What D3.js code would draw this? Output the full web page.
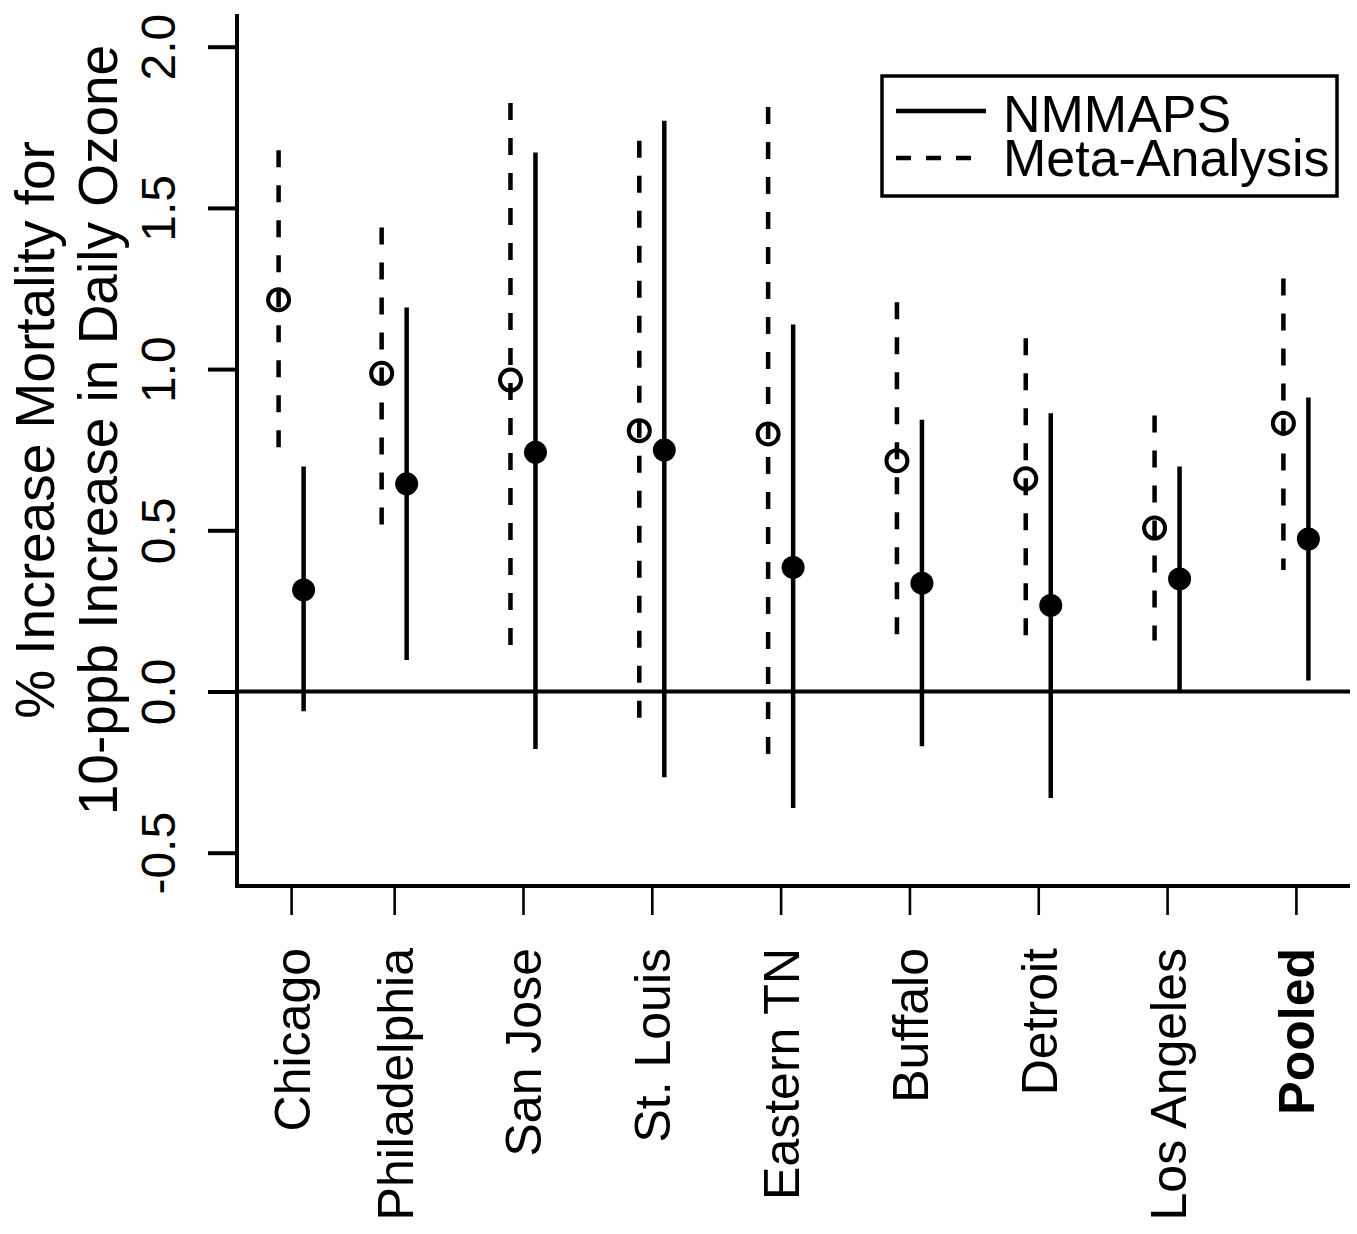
<!DOCTYPE html>
<html>
<head>
<meta charset="utf-8">
<script src="https://cdn.jsdelivr.net/npm/d3@7"></script>
<style>
  body { margin: 0; background: #fff; }
  text { font-family: "Liberation Sans", Arial, sans-serif; fill: #000; }
</style>
</head>
<body>
<div id="chart"></div>
<script>
// city estimates, % increase in mortality per 10-ppb ozone
const cities = ["Chicago", "Philadelphia", "San Jose", "St. Louis", "Eastern TN", "Buffalo", "Detroit", "Los Angeles", "Pooled"];
const cityPos = [1.2, 2, 3, 4, 5, 6, 7, 8, 9];

const metaEst = [1.215, 0.987, 0.966, 0.809, 0.799, 0.716, 0.66, 0.507, 0.832];
const metaLo  = [0.75, 0.509, 0.117, -0.10, -0.206, 0.163, 0.163, 0.158, 0.377];
const metaHi  = [1.679, 1.439, 1.825, 1.708, 1.813, 1.207, 1.096, 0.856, 1.281];

const nmmapsEst = [0.315, 0.644, 0.742, 0.749, 0.385, 0.336, 0.267, 0.349, 0.473];
const nmmapsLo  = [-0.061, 0.098, -0.178, -0.266, -0.361, -0.170, -0.330, 0.003, 0.034];
const nmmapsHi  = [0.698, 1.191, 1.672, 1.770, 1.138, 0.843, 0.863, 0.698, 0.912];

const yTicks = [-0.5, 0, 0.5, 1, 1.5, 2];
const legendLabels = ["NMMAPS", "Meta-Analysis"];

const width = 1357, height = 1234;
const plot = {left: 237, right: 1350, top: 14, bottom: 886};
const off = 12.5; // half gap between the two bars of a city

const svg = d3.select("#chart").append("svg")
    .attr("width", width)
    .attr("height", height);

const x = d3.scaleLinear().domain([0.78, 9.42]).range([plot.left, plot.right]);
const y = d3.scaleLinear().domain([-0.5, 2]).range([852.7, 46.7]);

// frame (bty = "l")
svg.append("path")
    .attr("d", `M${plot.left},${plot.top}V${plot.bottom}H${plot.right}`)
    .attr("fill", "none")
    .attr("stroke", "#000")
    .attr("stroke-width", 4);

// y axis
const fmt = d3.format(".1f");
const yAxis = svg.append("g")
    .attr("transform", `translate(${plot.left},0)`)
    .call(d3.axisLeft(y).tickValues(yTicks)
        .tickFormat(d => fmt(d).replace("\u2212", "-"))
        .tickSize(29).tickSizeOuter(0));
yAxis.select(".domain").remove();
yAxis.selectAll(".tick line").attr("stroke-width", 4);
yAxis.selectAll(".tick text")
    .attr("x", null).attr("dy", null)
    .attr("transform", "translate(-62,0) rotate(-90)")
    .attr("text-anchor", "middle")
    .style("font-size", "48px")
    .style("font-family", "Liberation Sans, Arial, sans-serif");

// x axis
const xAxis = svg.append("g")
    .attr("transform", `translate(0,${plot.bottom})`)
    .call(d3.axisBottom(x).tickValues(cityPos).tickFormat((d, i) => cities[i]).tickSize(29).tickSizeOuter(0));
xAxis.select(".domain").remove();
xAxis.selectAll(".tick line").attr("stroke-width", 2.6);
xAxis.selectAll(".tick text")
    .attr("y", null)
    .attr("transform", "translate(0,62) rotate(-90)")
    .attr("text-anchor", "end")
    .attr("dy", "0.36em")
    .style("font-size", "50px")
    .style("font-family", "Liberation Sans, Arial, sans-serif")
    .style("font-weight", (d, i) => cities[i] === "Pooled" ? "bold" : "normal");

// y title
const ytitle = svg.append("g").attr("transform", "translate(0,430) rotate(-90)");
ytitle.append("text").attr("x", 0).attr("y", 54).attr("text-anchor", "middle")
    .style("font-size", "55px").text("% Increase Mortality for");
ytitle.append("text").attr("x", 0).attr("y", 117).attr("text-anchor", "middle")
    .style("font-size", "55px").text("10-ppb Increase in Daily Ozone");

// zero reference line
svg.append("line")
    .attr("x1", plot.left).attr("x2", plot.right)
    .attr("y1", y(0)).attr("y2", y(0))
    .attr("stroke", "#000").attr("stroke-width", 4);

const idx = d3.range(cities.length);

// meta-analysis: dashed interval, open circle
svg.append("g").selectAll("line").data(idx).join("line")
    .attr("x1", i => x(cityPos[i]) - off).attr("x2", i => x(cityPos[i]) - off)
    .attr("y1", i => y(metaHi[i])).attr("y2", i => y(metaLo[i]))
    .attr("stroke", "#000").attr("stroke-width", 4.5)
    .attr("stroke-dasharray", "17,18");
svg.append("g").selectAll("circle").data(idx).join("circle")
    .attr("cx", i => x(cityPos[i]) - off)
    .attr("cy", i => y(metaEst[i]))
    .attr("r", 10.5)
    .attr("fill", "none").attr("stroke", "#000").attr("stroke-width", 4);

// NMMAPS: solid interval, filled dot
svg.append("g").selectAll("line").data(idx).join("line")
    .attr("x1", i => x(cityPos[i]) + off).attr("x2", i => x(cityPos[i]) + off)
    .attr("y1", i => y(nmmapsHi[i])).attr("y2", i => y(nmmapsLo[i]))
    .attr("stroke", "#000").attr("stroke-width", 4.5);
svg.append("g").selectAll("circle").data(idx).join("circle")
    .attr("cx", i => x(cityPos[i]) + off)
    .attr("cy", i => y(nmmapsEst[i]))
    .attr("r", 11.5)
    .attr("fill", "#000");

// legend
const lg = svg.append("g").attr("transform", "translate(882,76)");
lg.append("rect").attr("width", 455).attr("height", 120)
    .attr("fill", "#fff").attr("stroke", "#000").attr("stroke-width", 3.5);
lg.append("line").attr("x1", 14).attr("x2", 104).attr("y1", 35).attr("y2", 35)
    .attr("stroke", "#000").attr("stroke-width", 4.5);
lg.append("line").attr("x1", 14).attr("x2", 104).attr("y1", 82).attr("y2", 82)
    .attr("stroke", "#000").attr("stroke-width", 4.5).attr("stroke-dasharray", "15,15");
lg.selectAll("text").data(legendLabels).join("text")
    .attr("x", 121)
    .attr("y", (d, i) => 56 + i * 44)
    .style("font-size", "52px")
    .text(d => d);
</script>
</body>
</html>
